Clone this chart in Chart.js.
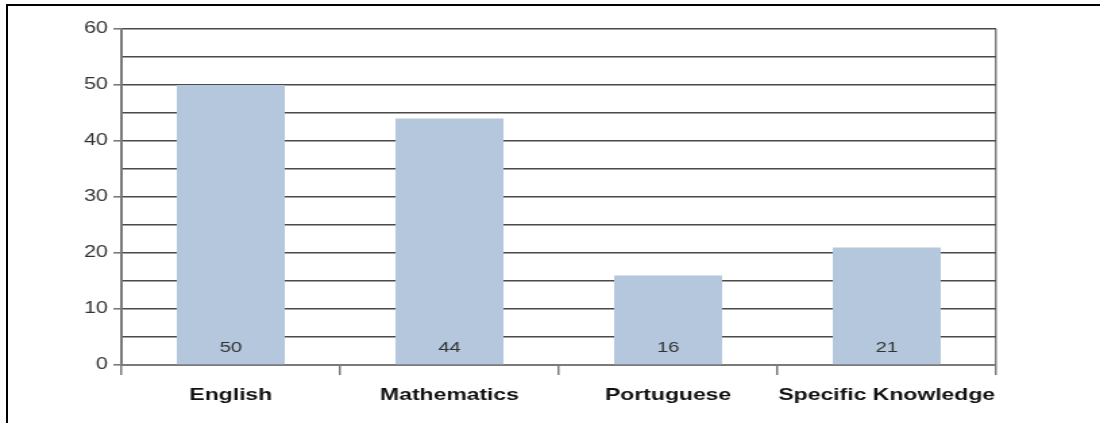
<!DOCTYPE html>
<html>
<head>
<meta charset="utf-8">
<title>Subjects</title>
<script src="https://cdn.jsdelivr.net/npm/chart.js@4/dist/chart.umd.min.js"></script>
<style>
  html, body { margin: 0; padding: 0; background: #fff; }
  #page { position: relative; width: 1100px; height: 423px; overflow: hidden; }
  /* the source picture is a horizontally stretched chart, so the canvas is stretched too */
  #chartWrap { position: absolute; left: 0; top: 0; width: 815px; height: 423px;
    transform: scaleX(1.34969); transform-origin: 0 0; }
  #frame { position: absolute; left: 6px; top: 4px; right: -10px; bottom: -10px;
    border-left: 2px solid #000; border-top: 2px solid #000; pointer-events: none; }
</style>
</head>
<body>
<div id="page">
  <div id="chartWrap"><canvas id="subjectChart"></canvas></div>
  <div id="frame"></div>
</div>
<script>
// data
const subjects = ['English', 'Mathematics', 'Portuguese', 'Specific Knowledge'];
const scores = [50, 44, 16, 21];
const yTicks = [0, 10, 20, 30, 40, 50, 60];

const FONT = "'Liberation Sans', Arial, sans-serif";
const barColor = '#b4c7dc';
const gridColor = '#4a4a4a';
const axisColor = '#7a7a7a';

document.addEventListener('DOMContentLoaded', function () {
  // value labels sitting at the foot of each bar
  const valueLabels = {
    id: 'valueLabels',
    afterDatasetsDraw(chart) {
      const ctx = chart.ctx;
      const yScale = chart.scales.y;
      const meta = chart.getDatasetMeta(0);
      ctx.save();
      ctx.font = '15px ' + FONT;
      ctx.fillStyle = '#333';
      ctx.textAlign = 'center';
      ctx.textBaseline = 'middle';
      meta.data.forEach((bar, i) => {
        ctx.fillText(String(scores[i]), bar.x, yScale.getPixelForValue(0) - 17);
      });
      ctx.restore();
    }
  };

  new Chart(document.getElementById('subjectChart').getContext('2d'), {
    type: 'bar',
    data: {
      labels: subjects,
      datasets: [{
        data: scores,
        backgroundColor: barColor,
        borderWidth: 0,
        barPercentage: 0.494,
        categoryPercentage: 1
      }]
    },
    options: {
      responsive: true,
      maintainAspectRatio: false,
      animation: false,
      layout: { padding: { left: 0, right: 77, top: 29, bottom: 0 } },
      plugins: {
        legend: { display: false },
        tooltip: { enabled: false }
      },
      scales: {
        x: {
          afterFit: scale => { scale.height = 58; },
          grid: {
            offset: true,
            drawOnChartArea: true,
            // only the closing line on the right is visible inside the plot
            color: c => c.type === 'scale' ? axisColor : 'rgba(0,0,0,0)',
            tickColor: axisColor,
            tickLength: 10,
            lineWidth: 1.5
          },
          border: { display: true, color: axisColor, width: 2 },
          ticks: {
            autoSkip: false,
            maxRotation: 0,
            minRotation: 0,
            padding: 10,
            color: '#111',
            font: { family: FONT, size: 17, weight: 'bold' }
          }
        },
        y: {
          min: 0,
          max: 60,
          afterFit: scale => { scale.width = 90; },
          grid: {
            color: gridColor,
            lineWidth: 1.6,
            tickLength: 6,
            tickColor: c => yTicks.includes(c.tick && c.tick.value) ? axisColor : 'rgba(0,0,0,0)'
          },
          border: { display: true, color: axisColor, width: 2 },
          ticks: {
            stepSize: 5,
            padding: 4,
            color: '#333',
            font: { family: FONT, size: 16 },
            callback: v => yTicks.includes(v) ? String(v) : ''
          }
        }
      }
    },
    plugins: [valueLabels]
  });
});
</script>
</body>
</html>
